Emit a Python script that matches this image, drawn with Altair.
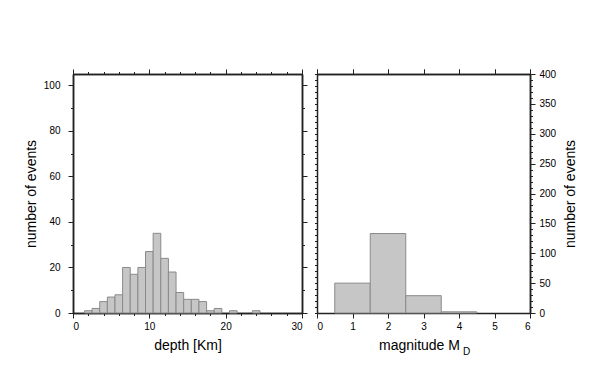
import altair as alt
import pandas as pd

# depth histogram (1 km bins, centred on integers)
depth_centers = [2, 3, 4, 5, 6, 7, 8, 9, 10, 11, 12, 13, 14, 15, 16, 17, 18, 19, 21, 24]
depth_counts = [1, 2, 5, 7, 8, 20, 17, 20, 27, 35, 24, 18, 9, 6, 6, 5, 1, 2, 1, 1]
depth_width = 1.0

# magnitude histogram (1 unit bins, centred on integers)
mag_centers = [1, 2, 3, 4]
mag_counts = [50, 133, 29, 2]
mag_width = 1.0

depth_major = [0, 10, 20, 30]
depth_minor = list(range(0, 31, 2))
depth_y_major = [0, 20, 40, 60, 80, 100]
depth_y_minor = list(range(0, 106, 10))

mag_major = [0, 1, 2, 3, 4, 5, 6]
mag_y_major = [0, 50, 100, 150, 200, 250, 300, 350, 400]
mag_y_minor = list(range(0, 401, 10))

df_d = pd.DataFrame({"c": depth_centers, "n": depth_counts})
df_d["x0"] = df_d["c"] - depth_width / 2
df_d["x1"] = df_d["c"] + depth_width / 2
df_d["z"] = 0
df_m = pd.DataFrame({"c": mag_centers, "n": mag_counts})
df_m["x0"] = df_m["c"] - mag_width / 2
df_m["x1"] = df_m["c"] + mag_width / 2
df_m["z"] = 0

FONT = "Liberation Sans"
BAR_FILL = "#c6c6c6"
BAR_STROKE = "#8a8a8a"
MAJ = 5
MIN = 2.5


def ax(orient, values, size, labels=False, title=None, **kw):
    a = dict(orient=orient, values=values, tickSize=size, labels=labels,
             domain=True, domainColor="#222", domainWidth=1.5,
             tickColor="#222", tickWidth=1, grid=False,
             labelFont=FONT, labelFontSize=10, labelColor="black",
             labelPadding=7, titleFont=FONT, titleFontSize=14,
             titleFontWeight="normal", titleColor="black")
    a.update(kw)
    a["title"] = title
    return alt.Axis(**a)


def panel(df, xdom, ydom, axes, w, h, extra=None):
    layers = []
    for i, (xa, ya) in enumerate(axes):
        m = alt.Chart(df).mark_bar(
            fill=BAR_FILL, stroke=BAR_STROKE, strokeWidth=1,
            opacity=1 if i == 0 else 0)
        layers.append(m.encode(
            x=alt.X("x0:Q", scale=alt.Scale(domain=xdom, nice=False, zero=False, padding=0), axis=xa),
            x2="x1:Q",
            y=alt.Y("n:Q", scale=alt.Scale(domain=ydom, nice=False, padding=0), axis=ya),
            y2="z:Q",
        ))
    if extra is not None:
        layers.append(extra)
    return alt.layer(*layers).resolve_axis(x="independent", y="independent").properties(width=w, height=h)


left_axes = [
    (ax("bottom", depth_major, MAJ, labels=True, title="depth [Km]", titlePadding=7, labelPadding=3),
     ax("left", depth_y_major, MAJ, labels=True, title="number of events", titlePadding=5, labelPadding=8)),
    (ax("bottom", depth_minor, MIN), ax("left", depth_y_minor, MIN)),
    (ax("top", depth_major, MAJ), ax("right", depth_y_major, MAJ)),
    (ax("top", depth_minor, MIN), ax("right", depth_y_minor, MIN)),
]
right_axes = [
    (ax("bottom", mag_major, MAJ, labels=True, title="magnitude M", titlePadding=7, labelPadding=3, titleX=102),
     ax("right", mag_y_major, MAJ, labels=True, title="number of events", titlePadding=8,
        titleAngle=270, titleBaseline="top", labelPadding=4)),
    (ax("top", mag_major, MAJ), ax("right", mag_y_minor, MIN)),
    (ax("top", mag_major, MAJ), ax("left", mag_y_minor, MIN)),
]

sub = alt.Chart(pd.DataFrame({"t": ["D"]})).mark_text(
    font=FONT, fontSize=10, align="left", baseline="alphabetic", color="black"
).encode(text="t:N", x=alt.value(146), y=alt.value(281))

left = panel(df_d, [0, 30], [0, 105], left_axes, 229, 239)
right = panel(df_m, [0, 6], [0, 400], right_axes, 213, 239, extra=sub)

chart = alt.hconcat(left, right, spacing=6).properties(
    padding={"left": 16, "top": 60, "right": 5, "bottom": 5}
).configure_view(stroke=None)

chart.save("out.html", embed_options={"renderer": "svg", "actions": False})
